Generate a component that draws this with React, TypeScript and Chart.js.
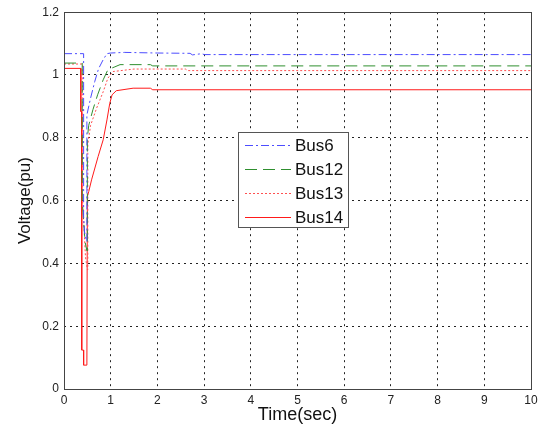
import React, { useEffect, useRef } from "react";
import { Chart, registerables } from "chart.js";

Chart.register(...registerables);

// ---- Data ----
const seriesLabels = ["Bus6", "Bus12", "Bus13", "Bus14"];

const bus6T = [0, 0.42, 0.42, 0.44, 0.48, 0.49, 0.49, 0.57, 0.66, 0.74, 0.84, 0.92, 1.0, 1.3, 2.0, 2.7, 2.75, 2.95, 3.0, 10];
const bus6V = [1.068, 1.068, 0.55, 0.5, 0.47, 0.47, 0.873, 0.927, 0.98, 1.02, 1.049, 1.068, 1.07, 1.072, 1.07, 1.069, 1.064, 1.068, 1.065, 1.065];

const bus12T = [0, 0.39, 0.39, 0.45, 0.49, 0.5, 0.5, 0.53, 0.62, 0.72, 0.84, 0.94, 1.09, 1.2, 1.85, 1.9, 10];
const bus12V = [1.038, 1.038, 0.6, 0.47, 0.44, 0.44, 0.8, 0.84, 0.89, 0.937, 0.985, 1.017, 1.026, 1.033, 1.033, 1.029, 1.029];

const bus13T = [0, 0.4, 0.4, 0.46, 0.5, 0.51, 0.51, 0.57, 0.7, 0.84, 0.94, 1.05, 1.5, 2.6, 2.65, 10];
const bus13V = [1.035, 1.035, 0.6, 0.42, 0.38, 0.38, 0.78, 0.84, 0.895, 0.947, 0.99, 1.011, 1.019, 1.019, 1.014, 1.014];

const bus14T = [0, 0.36, 0.36, 0.38, 0.38, 0.42, 0.42, 0.49, 0.5, 0.53, 0.59, 0.73, 0.84, 0.92, 0.98, 1.03, 1.12, 1.48, 1.85, 1.9, 10];
const bus14V = [1.021, 1.021, 0.884, 0.884, 0.124, 0.124, 0.076, 0.076, 0.613, 0.629, 0.666, 0.74, 0.794, 0.857, 0.91, 0.937, 0.95, 0.958, 0.958, 0.953, 0.953];

const xTicks = [0, 1, 2, 3, 4, 5, 6, 7, 8, 9, 10];
const yTicks = [0, 0.2, 0.4, 0.6, 0.8, 1, 1.2];

const colors = ["#4d4dff", "#2f8f2f", "#ff5050", "#ff1a1a"];
const dashes: number[][] = [[8, 3, 2, 3], [12, 6], [2, 2], []];

const toPoints = (t: number[], v: number[]) => t.map((x, i) => ({ x, y: v[i] }));

const FONT = "'Liberation Sans', Arial, Helvetica, sans-serif";

const frameAndLegend = {
  id: "frameAndLegend",
  afterDatasetsDraw(chart: any) {
    const { ctx, chartArea } = chart;
    const { left, top, right, bottom } = chartArea;
    ctx.save();
    // plot box
    ctx.strokeStyle = "#444";
    ctx.lineWidth = 1;
    ctx.setLineDash([]);
    ctx.strokeRect(Math.round(left) + 0.5, Math.round(top) + 0.5, Math.round(right - left), Math.round(bottom - top));

    // legend box
    const lx = 238.5, ly = 132.5, lw = 110, lh = 95;
    ctx.fillStyle = "#fff";
    ctx.fillRect(lx, ly, lw, lh);
    ctx.strokeStyle = "#555";
    ctx.strokeRect(lx, ly, lw, lh);
    const rows = [145, 169, 193, 217];
    chart.data.datasets.forEach((ds: any, i: number) => {
      const y = rows[i] + 0.5;
      ctx.beginPath();
      ctx.strokeStyle = ds.borderColor;
      ctx.lineWidth = 1;
      ctx.setLineDash(ds.borderDash || []);
      ctx.moveTo(245, y);
      ctx.lineTo(291, y);
      ctx.stroke();
      ctx.setLineDash([]);
      ctx.fillStyle = "#111";
      ctx.font = `17px ${FONT}`;
      ctx.textBaseline = "middle";
      ctx.textAlign = "left";
      ctx.fillText(ds.label, 295, rows[i] + 1);
    });
    ctx.restore();
  },
};

export default function App() {
  const ref = useRef<HTMLCanvasElement | null>(null);
  useEffect(() => {
    document.body.style.margin = "0";
    const canvas = ref.current!;
    const seriesT = [bus6T, bus12T, bus13T, bus14T];
    const seriesV = [bus6V, bus12V, bus13V, bus14V];
    const chart = new Chart(canvas, {
      type: "line",
      data: {
        datasets: seriesLabels.map((label, i) => ({
          label,
          data: toPoints(seriesT[i], seriesV[i]),
          borderColor: colors[i],
          borderDash: dashes[i],
          borderWidth: 1,
          pointRadius: 0,
          fill: false,
          tension: 0,
        })),
      },
      options: {
        animation: false,
        responsive: false,
        devicePixelRatio: 1,
        layout: { padding: { left: 0, top: 12, right: 12, bottom: 0 } },
        plugins: { legend: { display: false }, tooltip: { enabled: false } },
        scales: {
          x: {
            type: "linear",
            min: 0,
            max: 10,
            afterBuildTicks: (s: any) => { s.ticks = xTicks.map((v) => ({ value: v })); },
            afterFit: (s: any) => { s.height = 38; },
            grid: { color: "#222", lineWidth: 1, drawTicks: false },
            border: { display: false, dash: [2, 4] },
            ticks: { color: "#222", font: { size: 12, family: FONT }, padding: 4, maxRotation: 0 },
            title: { display: true, text: "Time(sec)", color: "#111", font: { size: 18, family: FONT }, padding: { top: 0, bottom: 1 } },
          },
          y: {
            type: "linear",
            min: 0,
            max: 1.2,
            afterBuildTicks: (s: any) => { s.ticks = yTicks.map((v) => ({ value: v })); },
            afterFit: (s: any) => { s.width = 64; },
            grid: { color: "#222", lineWidth: 1, drawTicks: false },
            border: { display: false, dash: [2, 4] },
            ticks: { color: "#222", font: { size: 12, family: FONT }, padding: 5, callback: (v: any) => String(Number(v.toFixed ? v.toFixed(1) : v)) },
            title: { display: true, text: "Voltage(pu)", color: "#111", font: { size: 17, family: FONT }, padding: { top: 15, bottom: 0 } },
          },
        },
      },
      plugins: [frameAndLegend],
    });
    return () => chart.destroy();
  }, []);
  return (
    <div style={{ width: 543, height: 427, background: "#fff" }}>
      <canvas ref={ref} width={543} height={427} style={{ display: "block" }} />
    </div>
  );
}
